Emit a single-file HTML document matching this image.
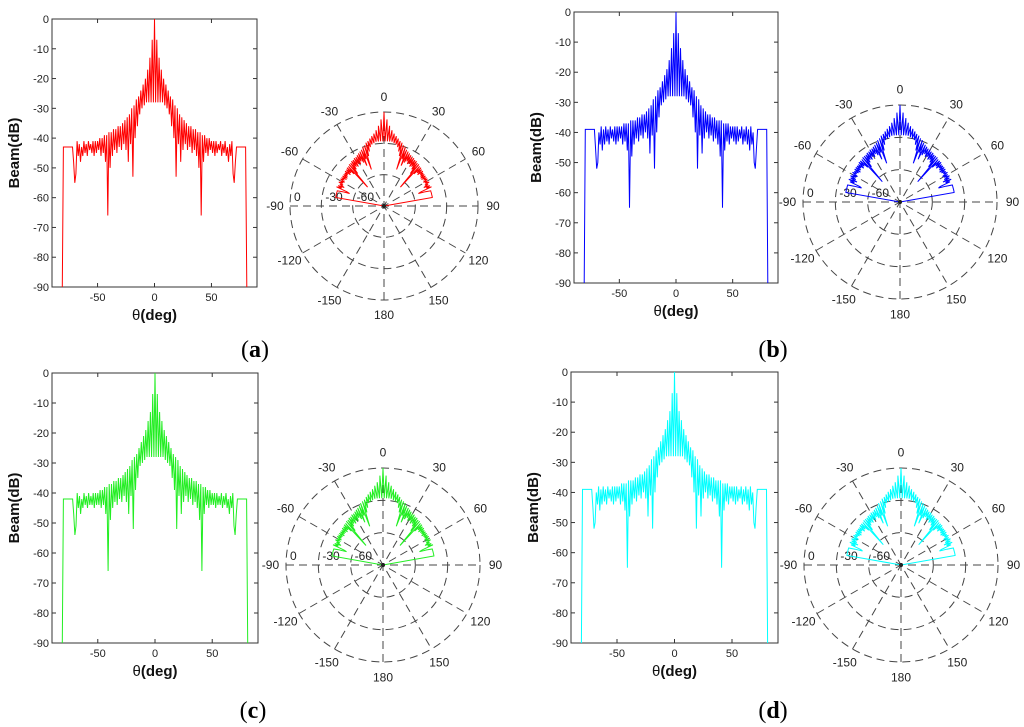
<!DOCTYPE html>
<html><head><meta charset="utf-8">
<style>
html,body{margin:0;padding:0;background:#fff;}
svg{display:block;font-family:"Liberation Sans",sans-serif;}
.tk{font-size:11px;fill:#222;}
.pl{font-size:12px;fill:#222;}
</style></head>
<body>
<svg id="fig" width="1024" height="727" viewBox="0 0 1024 727" xmlns="http://www.w3.org/2000/svg"></svg>
<script>
// angle grid (deg) for all series: -81..81 step 1
const thetaStart = -81;
const yTicks = [0,-10,-20,-30,-40,-50,-60,-70,-80,-90];
const xTicks = [-50,0,50];
const polarAngleLabels = [0,30,60,90,120,150,180,-150,-120,-90,-60,-30];
const polarRadiusLabels = [0,-30,-60];
const beamA = [
-90,-43,-43,-43,-43,-43,-43,-43,-43,-43,
-48,-55,
-52,-41,-46,-42,-48,-43,-46,-41,-45,-42,
-46,-41,-44,-42,-45,-41,-46,-41,-45,-41,
-44,-40,-46,-40,-45,-39,-48,-39,-66,-38,
-50,-38,-46,-37,-44,-37,-45,-36,-43,-36,
-44,-35,-42,-34,-44,-33,-48,-32,-42,-30,
-53,-29,-40,-27,-36,-26,-32,-24,-30,-22,
-29,-20,-28,-17,-28,-13,-28,-7,-28,
0,-28,-7,-28,-13,-28,-17,-28,-20,-29,
-22,-30,-24,-32,-26,-36,-27,-40,-29,-53,
-30,-42,-32,-48,-33,-44,-34,-42,-35,-44,
-36,-43,-36,-45,-37,-44,-37,-46,-38,-50,
-38,-66,-39,-48,-39,-45,-40,-46,-40,-44,
-41,-45,-41,-46,-41,-45,-42,-44,-41,-46,
-42,-45,-41,-46,-43,-48,-42,-46,-41,-52,
-55,-48,-43,-43,-43,-43,-43,-43,-43,-43,
-43,-90];
const beamB = [
-90,-39,-39,-39,-39,-39,-39,-39,-39,-39,
-45,-52,
-50,-40,-44,-38,-46,-39,-44,-38,-43,-39,
-44,-38,-42,-39,-43,-38,-44,-38,-43,-38,
-42,-38,-44,-37,-43,-37,-46,-37,-65,-36,
-48,-36,-44,-36,-42,-35,-43,-35,-41,-34,
-42,-34,-40,-33,-42,-32,-47,-31,-41,-29,
-52,-28,-40,-26,-35,-25,-31,-23,-30,-21,
-29,-19,-28,-16,-28,-12,-28,-7,-28,
0,-28,-7,-28,-12,-28,-16,-28,-19,-29,
-21,-30,-23,-31,-25,-35,-26,-40,-28,-52,
-29,-41,-31,-47,-32,-42,-33,-40,-34,-42,
-34,-41,-35,-43,-35,-42,-36,-44,-36,-48,
-36,-65,-37,-46,-37,-43,-37,-44,-38,-42,
-38,-43,-38,-44,-38,-43,-39,-42,-38,-44,
-39,-43,-38,-44,-39,-46,-38,-44,-40,-50,
-52,-45,-39,-39,-39,-39,-39,-39,-39,-39,
-39,-90];
const beamC = [
-90,-42,-42,-42,-42,-42,-42,-42,-42,-42,
-47,-54,
-51,-40,-45,-41,-47,-42,-45,-40,-44,-41,
-45,-40,-44,-41,-44,-40,-45,-40,-44,-40,
-44,-39,-45,-39,-44,-38,-47,-38,-66,-37,
-49,-37,-45,-36,-43,-36,-44,-35,-42,-35,
-43,-34,-41,-33,-43,-32,-47,-31,-41,-29,
-52,-28,-39,-27,-35,-25,-31,-23,-30,-21,
-29,-19,-28,-16,-28,-13,-28,-7,-28,
0,-28,-7,-28,-13,-28,-16,-28,-19,-29,
-21,-30,-23,-31,-25,-35,-27,-39,-28,-52,
-29,-41,-31,-47,-32,-43,-33,-41,-34,-43,
-35,-42,-35,-44,-36,-43,-36,-45,-37,-49,
-37,-66,-38,-47,-38,-44,-39,-45,-39,-44,
-40,-44,-40,-45,-40,-44,-41,-44,-40,-45,
-41,-44,-40,-45,-42,-47,-41,-45,-40,-51,
-54,-47,-42,-42,-42,-42,-42,-42,-42,-42,
-42,-90];
const beamD = [
-90,-39,-39,-39,-39,-39,-39,-39,-39,-39,
-45,-52,
-50,-40,-44,-38,-46,-39,-44,-38,-43,-39,
-44,-38,-42,-39,-43,-38,-44,-38,-43,-38,
-42,-38,-44,-37,-43,-37,-46,-37,-65,-36,
-48,-36,-44,-36,-42,-35,-43,-35,-41,-34,
-42,-34,-40,-33,-42,-32,-48,-31,-41,-29,
-52,-28,-40,-26,-35,-25,-31,-23,-30,-21,
-29,-19,-28,-16,-28,-13,-28,-7,-28,
0,-28,-7,-28,-13,-28,-16,-28,-19,-29,
-21,-30,-23,-31,-25,-35,-26,-40,-28,-52,
-29,-41,-31,-48,-32,-42,-33,-40,-34,-42,
-34,-41,-35,-43,-35,-42,-36,-44,-36,-48,
-36,-65,-37,-46,-37,-43,-37,-44,-38,-42,
-38,-43,-38,-44,-38,-43,-39,-42,-38,-44,
-39,-43,-38,-44,-39,-46,-38,-44,-40,-50,
-52,-45,-39,-39,-39,-39,-39,-39,-39,-39,
-39,-90];

const NS = "http://www.w3.org/2000/svg";
const fig = document.getElementById('fig');
function mk(tag, attrs, parent){
  const e = document.createElementNS(NS, tag);
  for (const k in attrs) e.setAttribute(k, attrs[k]);
  (parent||fig).appendChild(e);
  return e;
}

const panels = [
  {id:'a', data:beamA, color:'#ff0000', box:{x0:52,x1:257,y0:19,y1:287}, pol:{cx:384,cy:206,R:94}, lab:{x:255,y:357}},
  {id:'b', data:beamB, color:'#0000ff', box:{x0:574,x1:778,y0:12,y1:283}, pol:{cx:900,cy:202,R:97}, lab:{x:773,y:357}},
  {id:'c', data:beamC, color:'#22ee22', box:{x0:52,x1:258,y0:373,y1:643}, pol:{cx:383,cy:565,R:97}, lab:{x:253,y:718}},
  {id:'d', data:beamD, color:'#00ffff', box:{x0:571,x1:778,y0:372,y1:643}, pol:{cx:901,cy:565,R:97}, lab:{x:773,y:718}}
];

panels.forEach(p => {
  const g = mk('g', {});
  
  
  const b = p.box;
  const xs = t => b.x0 + (t + 90) / 180 * (b.x1 - b.x0);
  const ys = v => b.y0 + (0 - v) / 90 * (b.y1 - b.y0);

  const fr = mk('rect', {x:b.x0, y:b.y0, width:b.x1-b.x0, height:b.y1-b.y0, fill:'none', stroke:'#333', 'stroke-width':1}, g);
  
  
  yTicks.forEach(v => {
    const y = ys(v);
    mk('line', {x1:b.x0, y1:y, x2:b.x0+4, y2:y, stroke:'#333'}, g);
    mk('line', {x1:b.x1, y1:y, x2:b.x1-4, y2:y, stroke:'#333'}, g);
    const t = mk('text', {x:b.x0-3, y:y+4, 'text-anchor':'end', class:'tk'}, g);
    t.textContent = v;
    
    
  });
  xTicks.forEach(v => {
    const x = xs(v);
    mk('line', {x1:x, y1:b.y1, x2:x, y2:b.y1-4, stroke:'#333'}, g);
    mk('line', {x1:x, y1:b.y0, x2:x, y2:b.y0+4, stroke:'#333'}, g);
    const t = mk('text', {x:x, y:b.y1+14, 'text-anchor':'middle', class:'tk'}, g);
    t.textContent = v;
    
    
  });
  const yt = mk('text', {transform:`translate(${b.x0-33},${(b.y0+b.y1)/2}) rotate(-90)`, 'text-anchor':'middle', 'font-size':'15', 'font-weight':'bold', fill:'#111'}, g);
  yt.textContent = 'Beam(dB)';
  
  
  const xt = mk('text', {x:(b.x0+b.x1)/2, y:b.y1+33, 'text-anchor':'middle', 'font-size':'15', fill:'#111'}, g);
  xt.innerHTML = 'θ<tspan font-weight="bold">(deg)</tspan>';
  
  

  const pts = p.data.map((v, i) => xs(thetaStart + i).toFixed(1) + ',' + ys(v).toFixed(1)).join(' ');
  const ln = mk('polyline', {points:pts, fill:'none', stroke:p.color, 'stroke-width':1}, g);
  
  

  const P = p.pol;
  const dash = {fill:'none', stroke:'#444', 'stroke-width':1, 'stroke-dasharray':'8 5'};
  [1/3, 2/3, 1].forEach(f => {
    const c = mk('circle', Object.assign({cx:P.cx, cy:P.cy, r:P.R*f}, dash), g);
    
    
  });
  [0,30,60,90,120,150].forEach(a => {
    const r = a * Math.PI / 180;
    const dx = Math.sin(r) * P.R, dy = -Math.cos(r) * P.R;
    const s = mk('line', Object.assign({x1:P.cx-dx, y1:P.cy-dy, x2:P.cx+dx, y2:P.cy+dy}, dash), g);
    
    
  });
  polarAngleLabels.forEach(a => {
    const r = a * Math.PI / 180;
    const t = mk('text', {x:P.cx + Math.sin(r)*P.R*1.16, y:P.cy - Math.cos(r)*P.R*1.16 + 4, 'text-anchor':'middle', class:'pl'}, g);
    t.textContent = a;
    
    
  });
  polarRadiusLabels.forEach(v => {
    const rr = (v + 90) / 90 * P.R;
    const t = mk('text', {x:P.cx - rr + 4, y:P.cy - 5, class:'pl'}, g);
    t.textContent = v;
    
    
  });
  const ppts = p.data.map((v, i) => {
    const a = (thetaStart + i) * Math.PI / 180;
    const rr = Math.max(0, v + 90) / 90 * P.R;
    return (P.cx + Math.sin(a)*rr).toFixed(1) + ',' + (P.cy - Math.cos(a)*rr).toFixed(1);
  }).join(' ');
  const pl = mk('polyline', {points:ppts, fill:'none', stroke:p.color, 'stroke-width':1}, g);
  
  
  mk('circle', {cx:P.cx, cy:P.cy, r:2, fill:'#222'}, g);

  const lb = mk('text', {x:p.lab.x, y:p.lab.y, 'text-anchor':'middle', 'font-family':'Liberation Serif, serif', 'font-size':'24', fill:'#000'}, g);
  lb.innerHTML = '(<tspan font-weight="bold">' + p.id + '</tspan>)';
  
  
});
</script>
</body></html>
